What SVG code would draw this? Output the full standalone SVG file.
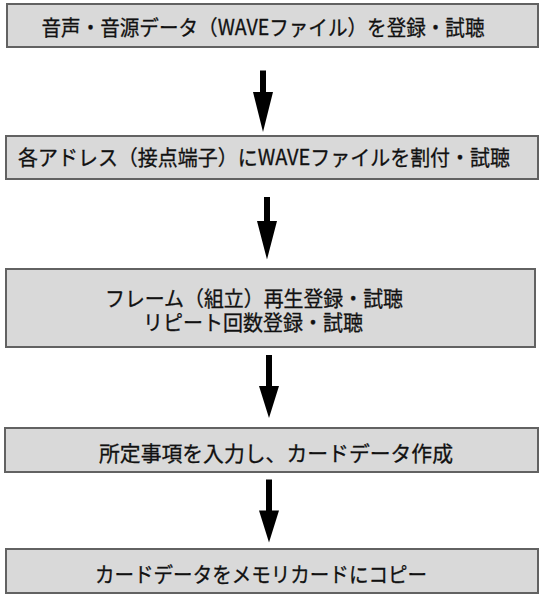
<svg xmlns="http://www.w3.org/2000/svg" width="540" height="594" viewBox="0 0 540 594">
<style>
.box{fill:#d9d9d9;stroke:#626262;stroke-width:2}
.t{font-family:"Noto Sans CJK JP","Noto Sans",sans-serif;font-size:21px;fill:#111;text-anchor:middle;stroke:#111;stroke-width:0.3}
.arr{fill:#000}
</style>
<rect width="540" height="594" fill="#fff"/>
<g id="n1"><rect class="box" x="7" y="4" width="531" height="43"/><text class="t" x="263" y="34.5" textLength="443" lengthAdjust="spacingAndGlyphs">音声・音源データ（WAVEファイル）を登録・試聴</text></g>
<g id="n2"><rect class="box" x="6" y="136" width="532" height="43"/><text class="t" x="264" y="165" textLength="492" lengthAdjust="spacingAndGlyphs">各アドレス（接点端子）にWAVEファイルを割付・試聴</text></g>
<g id="n3"><rect class="box" x="6" y="269" width="529" height="78"/><text class="t" x="254" y="306" textLength="298" lengthAdjust="spacingAndGlyphs">フレーム（組立）再生登録・試聴</text><text class="t" x="253" y="330" textLength="220" lengthAdjust="spacingAndGlyphs">リピート回数登録・試聴</text></g>
<g id="n4"><rect class="box" x="5" y="428" width="533" height="44"/><text class="t" x="276" y="461" textLength="354" lengthAdjust="spacingAndGlyphs">所定事項を入力し、カードデータ作成</text></g>
<g id="n5"><rect class="box" x="6" y="549" width="532" height="44"/><text class="t" x="261" y="581.5" textLength="332" lengthAdjust="spacingAndGlyphs">カードデータをメモリカードにコピー</text></g>
<g id="connectors">
<polygon class="arr" points="260,70.5 266,70.5 266,92 273,92 263,132 253,92 260,92"/>
<polygon class="arr" points="264,197 270,197 270,221 277,221 267,259.5 257,221 264,221"/>
<polygon class="arr" points="266,355 272,355 272,386 279,386 269,418 259,386 266,386"/>
<polygon class="arr" points="266,479.5 272,479.5 272,510.5 279,510.5 269,542.5 259,510.5 266,510.5"/>
</g>
</svg>
